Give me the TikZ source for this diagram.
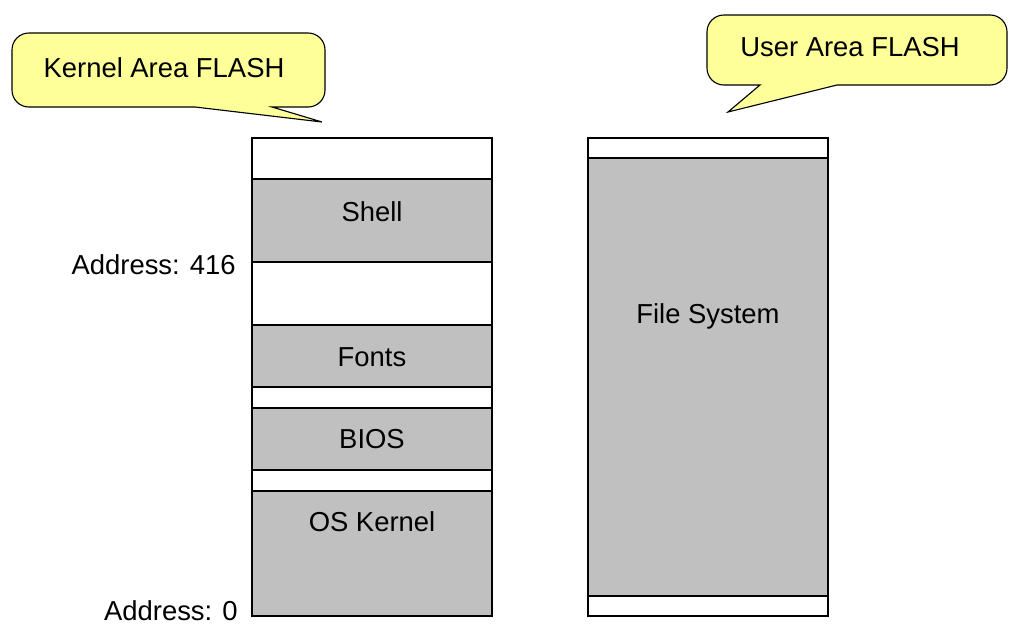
\documentclass[tikz,border=0pt]{standalone}
\usepackage{fontspec}
\setmainfont{Liberation Sans}
\usetikzlibrary{positioning}
\definecolor{blockgray}{HTML}{C0C0C0}
\definecolor{noteyellow}{HTML}{FFFF99}
\tikzset{
	freearea/.style={draw, fill=white, line width=1.1pt},
	usedarea/.style={draw, fill=blockgray, line width=1.1pt},
	memtext/.style={font=\fontsize{19.5}{22}\selectfont, inner sep=0pt},
	notebox/.style={draw, fill=noteyellow, line width=0.8pt}
}
\begin{document}
\begin{tikzpicture}[x=0.025cm, y=-0.025cm]
	\useasboundingbox (0,0) rectangle (1009,626);

	\draw[notebox] (12,70) [rounded corners=12] -- (12,33) -- (325,33) -- (325,107) [sharp corners] -- (272,107) -- (322,122) -- (195,107) [rounded corners=12] -- (12,107) -- cycle;
	\node[memtext] (kernelnote) at (164,68) {Kernel Area FLASH};

	\draw[notebox] (707,50) [rounded corners=12] -- (707,15) -- (1007,15) -- (1007,85) [sharp corners] -- (837,85) -- (728,112) -- (760,85) [rounded corners=12] -- (707,85) -- cycle;
	\node[memtext] (usernote) at (850,47) {User Area FLASH};

	\draw[freearea] (252,138) rectangle (492,616);
	\foreach \top/\bot/\ty/\nm/\txt in {179/262/212/shell/Shell, 325/387/357/fonts/Fonts, 408/470/439/bios/BIOS, 491/616/522/kernel/OS Kernel}
	{
		\draw[usedarea] (252,\top) rectangle (492,\bot);
		\node[memtext] (\nm) at (372,\ty) {\txt};
	}

	\draw[freearea] (588,138) rectangle (828,616);
	\draw[usedarea] (588,158) rectangle (828,596);
	\node[memtext] (filesys) at (708,316) {File System};

	\node[memtext, anchor=east] (addrtop) at (236,265) {Address: 416};
	\node[memtext, anchor=east] (addrzero) at (238,611) {Address: 0};
\end{tikzpicture}
\end{document}
